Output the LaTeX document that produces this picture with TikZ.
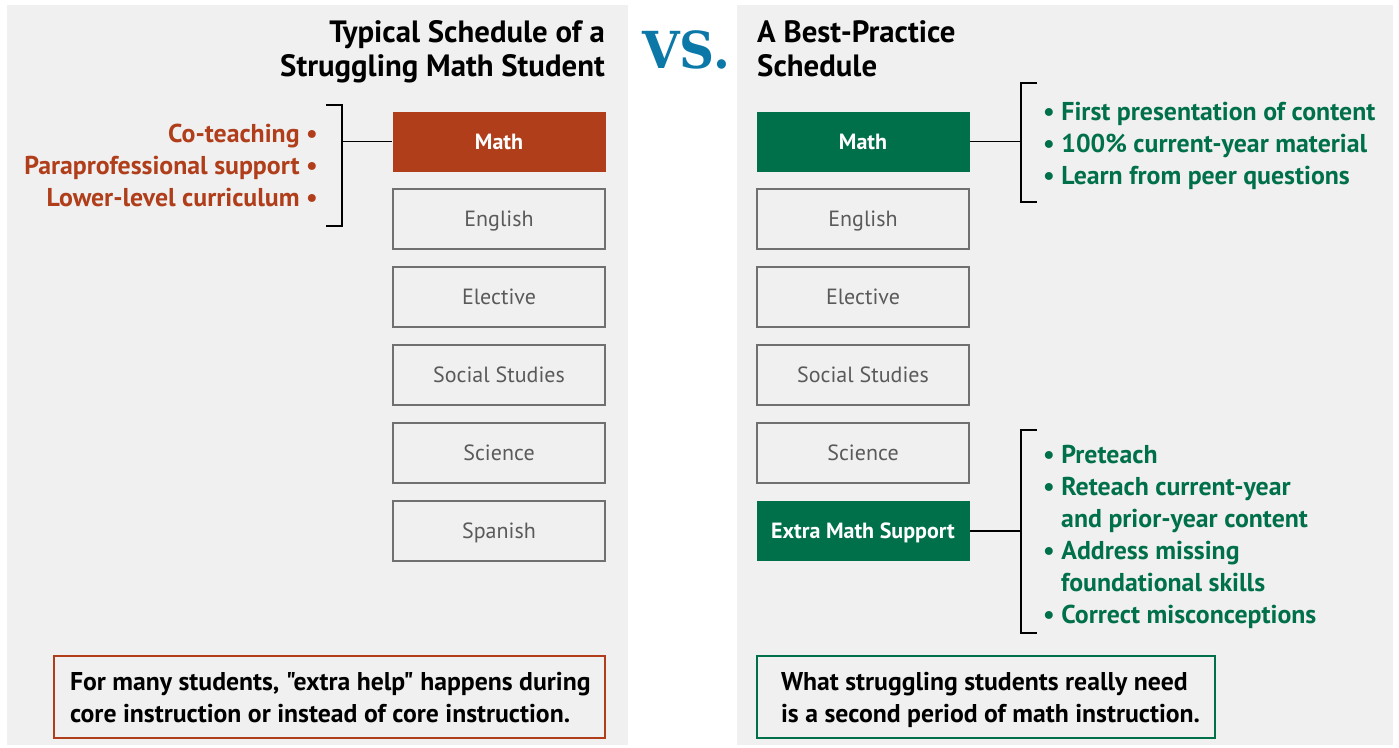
\documentclass[tikz,border=0pt]{standalone}
\usepackage{fontspec}
\setmainfont{PT Sans}[Ligatures=TeXOff]
\newfontfamily\vsfont{DejaVu Serif}
\definecolor{rust}{HTML}{B03E1A}
\definecolor{grn}{HTML}{00704A}
\definecolor{vsblue}{HTML}{0B78A8}
\definecolor{panel}{HTML}{F0F0F0}
\definecolor{boxgray}{HTML}{707070}
\definecolor{txtgray}{HTML}{5A5A5A}
\tikzset{
  x=1pt, y=-1pt,
  panelbg/.style={fill=panel, draw=none},
  sched/.style={draw=boxgray, line width=2.5pt, fill=panel, minimum width=212pt, minimum height=60pt, inner sep=0pt, text=txtgray, text height=15pt, text depth=0pt, font=\fontsize{22}{26}\selectfont},
  schedfill/.style={minimum width=213pt, minimum height=60pt, inner sep=0pt, text=white, text height=15pt, text depth=0pt, font=\fontsize{22}{26}\selectfont\bfseries},
  title/.style={font=\fontsize{30.8}{34}\selectfont\bfseries, inner sep=0pt, align=#1},
  bul/.style={font=\fontsize{25.8}{32}\selectfont\bfseries, inner sep=0pt},
  brk/.style={line width=1.5pt, black},
  note/.style={line width=2pt, fill=panel, inner sep=0pt, font=\fontsize{25.7}{32}\selectfont\bfseries, align=left}
}
\begin{document}
\begin{tikzpicture}
\useasboundingbox (0,0) rectangle (1399,747);
\fill[white] (0,0) rectangle (1399,747);
\fill[panelbg] (7,5) rectangle (628,745);
\fill[panelbg] (737,5) rectangle (1393,745);

% titles
\node[title=right, anchor=base east] (tl1) at (605,42) {Typical Schedule of a};
\node[title=right, anchor=base east] (tl2) at (605,76) {Struggling Math Student};
\node[title=left, anchor=base west] (tr1) at (757,42) {A Best-Practice};
\node[title=left, anchor=base west] (tr2) at (757,76) {Schedule};
\node[anchor=center, inner sep=0pt, text=vsblue, font=\vsfont\fontsize{51}{51}\selectfont\bfseries] (vs) at (686,50) {\scalebox{0.95}[1]{VS.}};

% left schedule
\node[schedfill, fill=rust] (lmath) at (499,141.5) {Math};
\node[sched] (leng) at (499,219) {English};
\node[sched] (lele) at (499,297) {Elective};
\node[sched] (lsoc) at (499,375) {Social Studies};
\node[sched] (lsci) at (499,453) {Science};
\node[sched] (lspa) at (499,531) {Spanish};

% right schedule
\node[schedfill, fill=grn] (rmath) at (863,141.5) {Math};
\node[sched] (reng) at (863,219) {English};
\node[sched] (rele) at (863,297) {Elective};
\node[sched] (rsoc) at (863,375) {Social Studies};
\node[sched] (rsci) at (863,453) {Science};
\node[schedfill, fill=grn] (rext) at (863,531) {Extra Math Support};

% left bracket
\coordinate (lbt) at (342,105);
\coordinate (lbb) at (342,226);
\coordinate (lbm) at (342,141.5);
\draw[brk] (326,105) -- (lbt) -- (lbb) -- (326,226);
\draw[brk] (lbm) -- (lmath.west);
\node[bul, text=rust, anchor=base east] (lb1) at (318,142) {Co-teaching •};
\node[bul, text=rust, anchor=base east] (lb2) at (318,174) {Paraprofessional support •};
\node[bul, text=rust, anchor=base east] (lb3) at (318,206) {Lower-level curriculum •};

% right upper bracket
\coordinate (rbt) at (1021,83);
\coordinate (rbb) at (1021,202);
\coordinate (rbm) at (1021,141.5);
\draw[brk] (1037,83) -- (rbt) -- (rbb) -- (1037,202);
\draw[brk] (rmath.east) -- (rbm);
\node[bul, text=grn, anchor=base west] (rb1) at (1043,120) {• First presentation of content};
\node[bul, text=grn, anchor=base west] (rb2) at (1043,152) {• 100\% current-year material};
\node[bul, text=grn, anchor=base west] (rb3) at (1043,184) {• Learn from peer questions};

% right lower bracket
\coordinate (rlt) at (1021,430);
\coordinate (rlb) at (1021,633);
\coordinate (rlm) at (1021,531);
\draw[brk] (1037,430) -- (rlt) -- (rlb) -- (1037,633);
\draw[brk] (rext.east) -- (rlm);
\node[bul, text=grn, anchor=base west] (rc1) at (1043,463) {• Preteach};
\node[bul, text=grn, anchor=base west] (rc2) at (1043,495) {• Reteach current-year};
\node[bul, text=grn, anchor=base west] (rc2b) at (1061,527) {and prior-year content};
\node[bul, text=grn, anchor=base west] (rc3) at (1043,559) {• Address missing};
\node[bul, text=grn, anchor=base west] (rc3b) at (1061,591) {foundational skills};
\node[bul, text=grn, anchor=base west] (rc4) at (1043,623) {• Correct misconceptions};

% notes
\draw[note, draw=rust] (54,656) rectangle (605,738);
\node[note, draw=none, fill=none, anchor=base west] (nl1) at (69,690) {For many students, "extra help" happens during};
\node[note, draw=none, fill=none, anchor=base west] (nl2) at (69,722) {core instruction or instead of core instruction.};
\draw[note, draw=grn] (757,656) rectangle (1215,738);
\node[note, draw=none, fill=none, anchor=base west] (nr1) at (780,690) {What struggling students really need};
\node[note, draw=none, fill=none, anchor=base west] (nr2) at (780,722) {is a second period of math instruction.};
\end{tikzpicture}
\end{document}
